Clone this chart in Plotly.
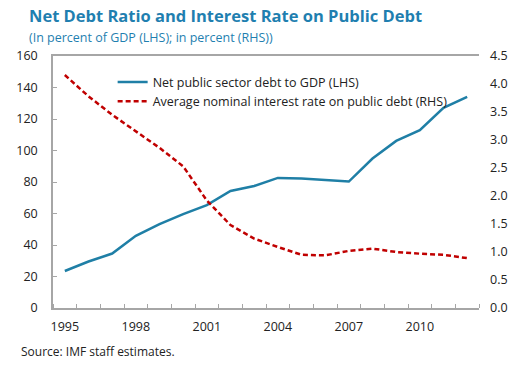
import plotly.graph_objects as go

years = list(range(1995, 2013))
net_debt = [23.5, 29.5, 34.6, 45.8, 53.2, 59.6, 65.3, 74.3, 77.5, 82.6, 82.2, 81.1, 80.3, 94.9, 106.1, 112.9, 127.1, 134.1]
interest = [4.16, 3.78, 3.45, 3.16, 2.86, 2.53, 1.92, 1.48, 1.24, 1.09, 0.95, 0.94, 1.02, 1.06, 1.00, 0.97, 0.95, 0.89]
xtick_years = [1995, 1998, 2001, 2004, 2007, 2010]
left_ticks = list(range(0, 161, 20))
right_ticks = [i * 0.5 for i in range(10)]

title = "Net Debt Ratio and Interest Rate on Public Debt"
subtitle = "(In percent of GDP (LHS); in percent (RHS))"
source = "Source: IMF staff estimates."
name1 = "Net public sector debt to GDP (LHS)"
name2 = "Average nominal interest rate on public debt (RHS)"

TITLE_C = "#1f7fb0"
BLUE = "#1f7fa6"
RED = "#c00000"
AX = "#a6a6a6"
FONT = "Open Sans"

fig = go.Figure()
fig.add_trace(go.Scatter(x=years, y=net_debt, name=name1, mode="lines",
                         line=dict(color=BLUE, width=2.5), yaxis="y"))
fig.add_trace(go.Scatter(x=years, y=interest, name=name2, mode="lines",
                         line=dict(color=RED, width=2.5, dash="5px,3px"), yaxis="y2"))

fig.update_layout(
    width=526, height=366,
    margin=dict(l=53, r=47, t=56, b=58),
    paper_bgcolor="white", plot_bgcolor="white",
    font=dict(family=FONT, size=12.5, color="#222222"),
    showlegend=True,
    legend=dict(x=0.14, y=0.955, xanchor="left", yanchor="top",
                bgcolor="rgba(0,0,0,0)", font=dict(size=12.5, color="#222222"),
                itemwidth=30, tracegroupgap=0),
    xaxis=dict(range=[1994.5, 2012.5], tickvals=xtick_years,
               ticktext=[str(y) for y in xtick_years],
               ticks="", showgrid=False, zeroline=False,
               showline=True, linecolor=AX, linewidth=1.5, mirror=True,
               minor=dict(tick0=1994.5, dtick=1, ticks="inside", ticklen=4,
                          tickcolor=AX, showgrid=False),
               ticklabelstandoff=6, tickfont=dict(size=12.5)),
    yaxis=dict(range=[0, 160], tickvals=left_ticks, ticks="inside", ticklen=4,
               tickcolor=AX, showgrid=False, zeroline=False,
               showline=True, linecolor=AX, linewidth=1.5,
               ticklabelstandoff=11, tickfont=dict(size=12.5)),
    yaxis2=dict(range=[0, 4.5], tickvals=right_ticks,
                ticktext=[f"{v:.1f}" for v in right_ticks],
                overlaying="y", side="right", ticks="", showgrid=False,
                zeroline=False, showline=False,
                ticklabelstandoff=10, tickfont=dict(size=12.5)),
    annotations=[
        dict(text=f"<b>{title}</b>", xref="paper", yref="paper", x=-0.06, y=1.0,
             xanchor="left", yanchor="bottom", yshift=27, showarrow=False,
             font=dict(size=16.5, color=TITLE_C, family=FONT)),
        dict(text=subtitle, xref="paper", yref="paper", x=-0.062, y=1.0,
             xanchor="left", yanchor="bottom", yshift=8, showarrow=False,
             font=dict(size=12.5, color=TITLE_C, family=FONT)),
        dict(text=source, xref="paper", yref="paper", x=-0.08, y=0.0,
             xanchor="left", yanchor="top", yshift=-33, showarrow=False,
             font=dict(size=12, color="#222222", family=FONT)),
    ],
)

fig.write_html("out.html", config={"displayModeBar": False},
               post_script="document.body.style.margin='0';")
